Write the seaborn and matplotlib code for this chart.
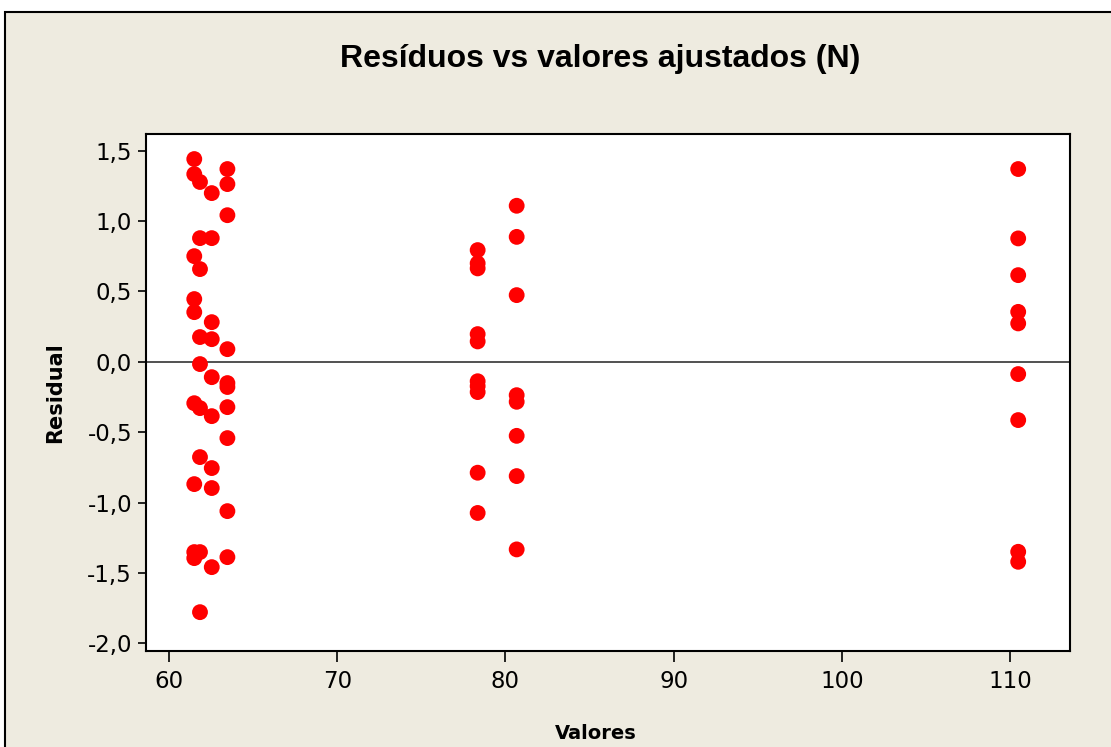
import numpy as np
import pandas as pd
import matplotlib
matplotlib.use("Agg")
import matplotlib.pyplot as plt
from matplotlib.patches import Rectangle
from matplotlib.ticker import FuncFormatter
import seaborn as sns

# fitted values (groups) and residuals
fit_a = 61.50
res_a = [1.441, 1.334, 0.751, 0.446, 0.353, -0.294, -0.869, -1.352, -1.395]
fit_b = 61.84
res_b = [1.278, 0.879, 0.659, 0.176, -0.016, -0.329, -0.677, -1.352, -1.779]
fit_c = 62.54
res_c = [1.199, 0.879, 0.282, 0.161, -0.109, -0.386, -0.755, -0.897, -1.459]
fit_d = 63.47
res_d = [1.370, 1.263, 1.042, 0.090, -0.151, -0.179, -0.322, -0.542, -1.061, -1.388]
fit_e = 78.35
res_e = [0.794, 0.700, 0.664, 0.197, 0.145, -0.138, -0.173, -0.215, -0.788, -1.074]
fit_f = 80.67
res_f = [1.109, 0.888, 0.474, -0.237, -0.284, -0.526, -0.812, -1.333]
fit_g = 110.49
res_g = [1.370, 0.877, 0.616, 0.355, 0.273, -0.087, -0.414, -1.350, -1.421]

groups = [(fit_a, res_a), (fit_b, res_b), (fit_c, res_c), (fit_d, res_d),
          (fit_e, res_e), (fit_f, res_f), (fit_g, res_g)]
rows = []
for fv, rs in groups:
    for r in rs:
        rows.append({'fitted': fv, 'residual': r})
df = pd.DataFrame(rows)

x_ticks = [60, 70, 80, 90, 100, 110]
y_ticks = [1.5, 1.0, 0.5, 0.0, -0.5, -1.0, -1.5, -2.0]

sns.set_theme(style="white")
plt.rcParams['font.family'] = ['DejaVu Sans']
plt.rcParams['text.color'] = 'black'
plt.rcParams['axes.labelcolor'] = 'black'

bg = '#EEEBE0'
fig = plt.figure(figsize=(11.11, 7.47), dpi=100, facecolor='white')
# beige graph region with black frame (cropped on the right/bottom)
frame = Rectangle((5 / 1111, -0.1), 1.2, 1.1 - 12 / 747,
                  transform=fig.transFigure, facecolor=bg,
                  edgecolor='black', linewidth=1.5, zorder=-10)
fig.patches.append(frame)

ax = fig.add_axes([146 / 1111, 1 - 651 / 747, 924 / 1111, 517 / 747])
ax.set_facecolor('white')
ax.set_zorder(1)

sns.scatterplot(data=df, x='fitted', y='residual', ax=ax, color='#FF0000',
                s=130, edgecolor='none', linewidth=0, zorder=3)
ax.axhline(0, color='#333333', linewidth=1.2, zorder=2)

ax.set_xlim(58.63, 113.57)
ax.set_ylim(-2.055, 1.619)
ax.set_xticks(x_ticks)
ax.set_yticks(y_ticks)
ax.yaxis.set_major_formatter(FuncFormatter(lambda v, p: f"{v:.1f}".replace('.', ',')))
ax.tick_params(axis='both', which='major', direction='out', colors='black',
               labelsize=16.5, left=True, bottom=True, width=1.2)
ax.tick_params(axis='x', length=8, pad=6)
ax.tick_params(axis='y', length=6, pad=4)
for sp in ax.spines.values():
    sp.set_color('black')
    sp.set_linewidth(1.5)

ax.set_xlabel('Valores', fontsize=14, fontweight='bold', va='top')
ax.xaxis.set_label_coords(0.487, -0.141)
ax.set_ylabel('Residual', fontsize=15, fontweight='bold')
ax.yaxis.set_label_coords(-0.088, 0.5)

fig.text(600 / 1111, 1 - 59 / 747, 'Resíduos vs valores ajustados (N)',
         family='Liberation Sans', fontsize=23, fontweight='bold',
         color='black', ha='center', va='center')

fig.savefig('out.png', dpi=100, facecolor=fig.get_facecolor())
